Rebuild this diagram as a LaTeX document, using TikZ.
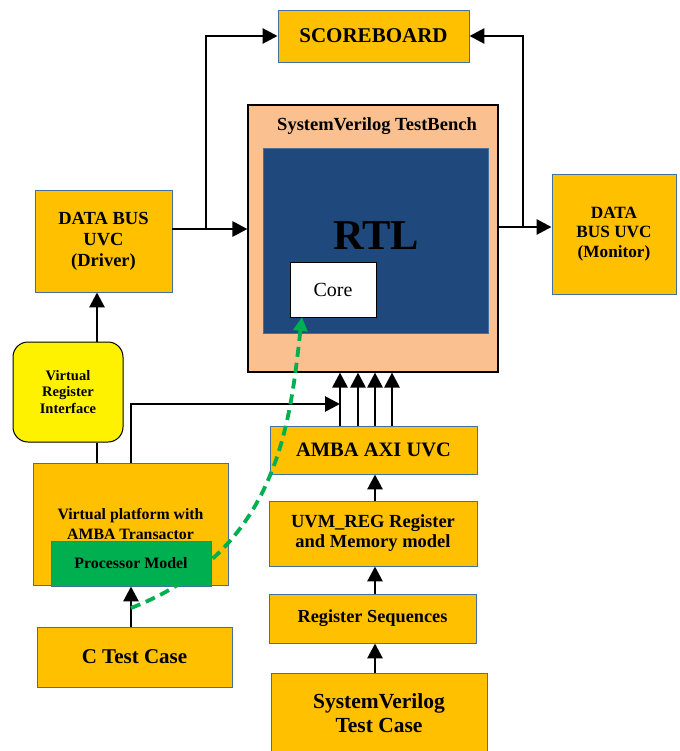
\documentclass[tikz,border=0pt]{standalone}
\usepackage{fontspec}
\setmainfont{Liberation Serif}
\usetikzlibrary{arrows.meta}
\definecolor{amber}{HTML}{FFC000}
\definecolor{boxedge}{HTML}{41719C}
\definecolor{peach}{HTML}{FAC090}
\definecolor{rtlblue}{HTML}{1F497D}
\definecolor{vrgreen}{HTML}{00B050}
\newcommand{\boxfont}[2]{\fontsize{#1}{#2}\selectfont\bfseries}
\tikzstyle{uvc} = [draw=boxedge, fill=amber, rectangle, line width=0.9pt,
   align=center, inner sep=0pt]
\tikzstyle{conn} = [line width=2.8pt, -{Triangle[length=15pt,width=15pt]}]
\tikzstyle{link} = [line width=2.8pt]
\tikzstyle{greendash} = [vrgreen, line width=3.8pt, dash pattern=on 10pt off 6pt,
   -{Triangle[length=14pt,width=14pt]}]

\begin{document}
\begin{tikzpicture}[
  x=1pt, y=-1pt,
  thick,
  ]
  \useasboundingbox (0,0) rectangle (679,751);
  \node[uvc, minimum width=191pt, minimum height=52pt, font=\boxfont{21}{24}] (sb) at (373.5,36) {SCOREBOARD};
  \node[draw, rectangle, fill=peach, line width=1.1pt, minimum width=250pt, minimum height=267pt] (tb) at (373,238.5) {};
  \node[font=\boxfont{18.5}{21}] (tbtitle) at (377,126) {SystemVerilog TestBench};
  \node[draw=boxedge, fill=rtlblue, rectangle, line width=0.9pt, minimum width=225pt, minimum height=185pt] (rtl) at (375.5,240.5) {};
  \node[font=\boxfont{42.5}{46}] (rtllabel) at (376,236) {RTL};
  \node[draw, rectangle, fill=white, line width=0.9pt, minimum width=86pt, minimum height=55pt,
    font=\fontsize{20}{24}\selectfont] (core) at (333,289.5) {Core};
  \node[uvc, minimum width=137pt, minimum height=102pt, font=\boxfont{18.5}{21}] (driver) at (103.5,241) {DATA BUS\\UVC\\(Driver)};
  \node[uvc, minimum width=124pt, minimum height=120pt, font=\boxfont{17.2}{19.5}] (monitor) at (614,234) {DATA\\BUS UVC\\(Monitor)};
  \node[draw, fill=yellow, rounded corners=15pt, line width=1pt, minimum width=110pt, minimum height=100pt,
    align=center, inner sep=0pt, font=\boxfont{14.5}{16.5}] (vri) at (68,392) {Virtual\\Register\\Interface};
  \node[uvc, minimum width=195pt, minimum height=122pt, font=\boxfont{15.8}{20}] (vp) at (130.5,524) {Virtual platform with\\AMBA Transactor};
  \node[uvc, fill=vrgreen, minimum width=160pt, minimum height=45pt, font=\boxfont{15.9}{19}] (pm) at (131,563.5) {Processor Model};
  \node[uvc, minimum width=195pt, minimum height=60pt, font=\boxfont{21}{24}] (ctc) at (134.5,657) {C Test Case};
  \node[uvc, minimum width=207pt, minimum height=48pt, font=\boxfont{20.5}{23}] (amba) at (373.5,450) {AMBA AXI UVC};
  \node[uvc, minimum width=208pt, minimum height=65pt, font=\boxfont{18.5}{20}] (uvmreg) at (373,533.5) {UVM\_REG Register\\and Memory model};
  \node[uvc, minimum width=207pt, minimum height=49pt, font=\boxfont{18.3}{21}] (regseq) at (372.5,618.5) {Register Sequences};
  \node[uvc, minimum width=216pt, minimum height=80pt, font=\boxfont{21.5}{24}] (svtc) at (379,713) {SystemVerilog\\Test Case};
  \coordinate (dl) at (206,229);
  \coordinate (ml) at (523,227);
  \coordinate (dx) at (97,0);
  \coordinate (cx) at (375,0);
  \coordinate (vx) at (131,404);
  \coordinate (ax) at (340,404);
  \draw[conn] (driver.east |- dl) -- (tb.west |- dl);
  \draw[conn] (dl) |- (sb.west);
  \draw[conn] (tb.east |- ml) -- (monitor.west |- ml);
  \draw[conn] (ml) |- (sb.east);
  \draw[conn] (vri.north -| dx) -- (driver.south -| dx);
  \draw[link] (vri.south -| dx) -- (vp.north -| dx);
  \draw[conn] (vp.north -| vx) -- (vx) -- (ax);
  \foreach \xx in {340,358,375,392} {
    \coordinate (up) at (\xx,0);
    \draw[conn] (amba.north -| up) -- (tb.south -| up);
  }
  \draw[conn] (uvmreg.north -| cx) -- (amba.south -| cx);
  \draw[conn] (regseq.north -| cx) -- (uvmreg.south -| cx);
  \draw[conn] (svtc.north -| cx) -- (regseq.south -| cx);
  \draw[conn] (ctc.north -| pm.south) -- (pm.south);
  % Processor model to core:
  \coordinate (gs) at (131,608);
  \coordinate (ge) at (302,317);
  \draw[greendash] (gs) .. controls (280,550) and (290,420) .. (ge);
\end{tikzpicture}
\end{document}
